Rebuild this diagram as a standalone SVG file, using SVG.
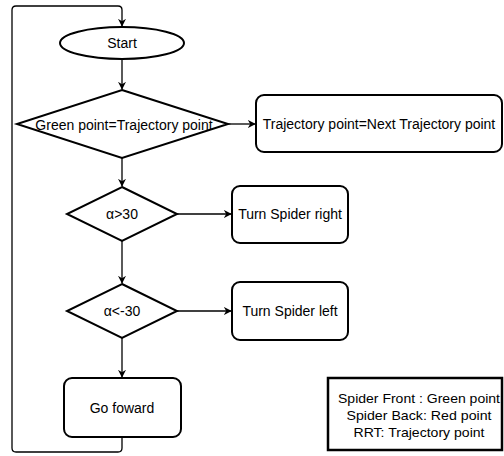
<svg xmlns="http://www.w3.org/2000/svg" width="504" height="456" viewBox="0 0 504 456">
  <style>
    .node { fill: #ffffff; stroke: #000000; stroke-width: 2; }
    .edge { fill: none; stroke: #000000; stroke-width: 1.3; }
    .label { font-family: "Liberation Sans", Arial, sans-serif; font-size: 14px; fill: #000000; text-anchor: middle; dominant-baseline: central; }
    .note { font-family: "Liberation Sans", Arial, sans-serif; font-size: 13.5px; fill: #000000; text-anchor: middle; dominant-baseline: central; }
  </style>
  <defs>
    <marker id="arrow" viewBox="0 0 10 10" refX="9" refY="5" markerWidth="8" markerHeight="8" markerUnits="userSpaceOnUse" orient="auto">
      <path d="M0,0 L10,5 L0,10 L3,5 Z" fill="#000000"/>
    </marker>
  </defs>
  <rect width="504" height="456" fill="#ffffff"/>

  <g id="connectors">
    <path class="edge" d="M122,437 V448 Q122,452 118,452 H16 Q12,452 12,448 V10 Q12,6 16,6 H118 Q122,6 122,10 V26" marker-end="url(#arrow)"/>
    <path class="edge" d="M122,59 V89" marker-end="url(#arrow)"/>
    <path class="edge" d="M228,124 H255" marker-end="url(#arrow)"/>
    <path class="edge" d="M122,158 V186" marker-end="url(#arrow)"/>
    <path class="edge" d="M177,214 H231" marker-end="url(#arrow)"/>
    <path class="edge" d="M122,241 V283" marker-end="url(#arrow)"/>
    <path class="edge" d="M177,311 H231" marker-end="url(#arrow)"/>
    <path class="edge" d="M122,338 V377" marker-end="url(#arrow)"/>
  </g>

  <g id="start">
    <ellipse class="node" cx="122" cy="43" rx="62" ry="16"/>
    <text class="label" x="122" y="43">Start</text>
  </g>

  <g id="check-trajectory">
    <polygon class="node" points="122,90 228,124 122,158 17,124"/>
    <text class="label" x="124" y="125">Green point=Trajectory point</text>
  </g>

  <g id="next-trajectory">
    <rect class="node" x="256" y="95" width="246" height="57" rx="8"/>
    <text class="label" x="379" y="124">Trajectory point=Next Trajectory point</text>
  </g>

  <g id="alpha-positive">
    <polygon class="node" points="122,187 177,214 122,241 67,214"/>
    <text class="label" x="122" y="214">α&gt;30</text>
  </g>

  <g id="turn-right">
    <rect class="node" x="232" y="186" width="116" height="57" rx="8"/>
    <text class="label" x="290" y="214">Turn Spider right</text>
  </g>

  <g id="alpha-negative">
    <polygon class="node" points="122,284 177,311 122,338 67,311"/>
    <text class="label" x="122" y="311">α&lt;-30</text>
  </g>

  <g id="turn-left">
    <rect class="node" x="232" y="282" width="116" height="58" rx="8"/>
    <text class="label" x="290" y="311">Turn Spider left</text>
  </g>

  <g id="go-forward">
    <rect class="node" x="64" y="378" width="117" height="59" rx="8"/>
    <text class="label" x="122" y="408">Go foward</text>
  </g>

  <g id="legend">
    <rect x="328" y="378" width="174" height="72" fill="#ffffff" stroke="#000000" stroke-width="2.5"/>
    <text class="note" x="419" y="398" textLength="162" lengthAdjust="spacingAndGlyphs">Spider Front : Green point</text>
    <text class="note" x="419" y="415" textLength="145" lengthAdjust="spacingAndGlyphs">Spider Back: Red point</text>
    <text class="note" x="419" y="432" textLength="131" lengthAdjust="spacingAndGlyphs">RRT: Trajectory point</text>
  </g>
</svg>
